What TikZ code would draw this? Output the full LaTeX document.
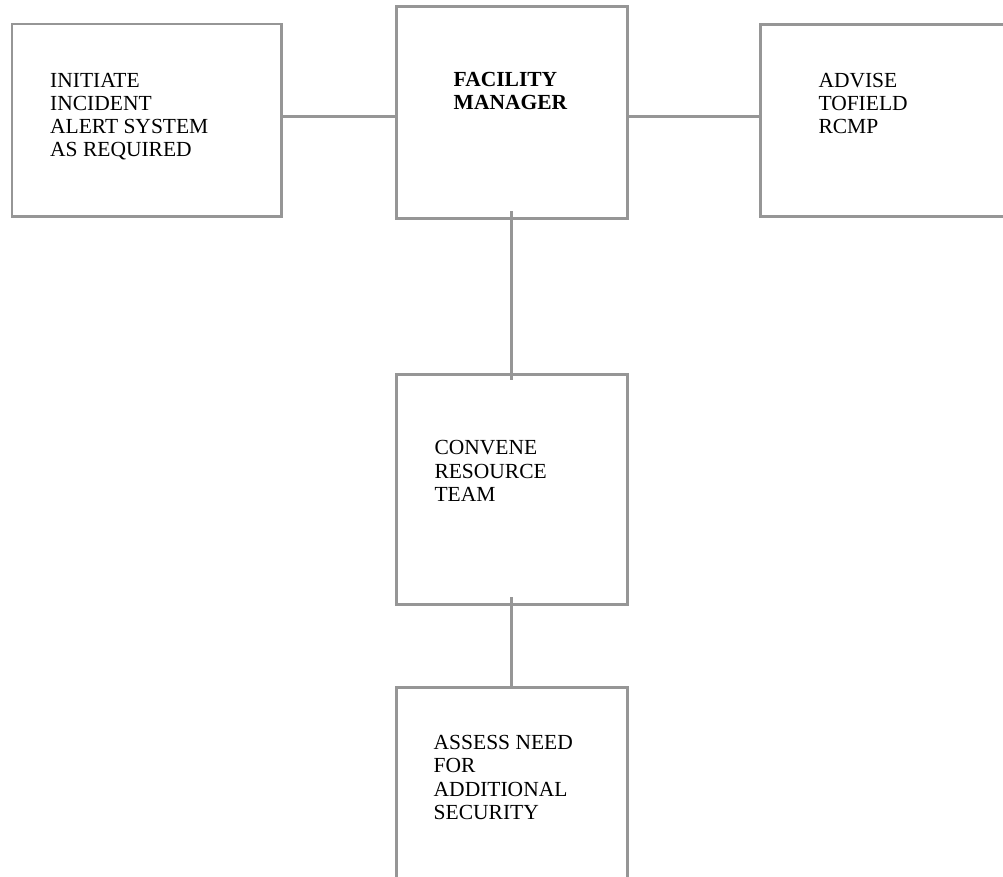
\documentclass[tikz,border=0pt]{standalone}
\usepackage{fontspec}
\setmainfont{Liberation Serif}
\definecolor{boxgray}{RGB}{150,150,150}
\begin{document}
\begin{tikzpicture}[x=1pt,y=-1pt,
  box/.style={draw=boxgray,line width=2.8pt,rectangle,inner sep=0pt,anchor=north west},
  conn/.style={draw=boxgray,line width=2.8pt},
  lbl/.style={anchor=north west,inner sep=0pt,align=left,font=\fontsize{21.5}{23.3}\selectfont}]
\clip (0,0) rectangle (1003,876);
\node[box,minimum width=269.5pt,minimum height=192.5pt] (lbox) at (10.5,22.5) {};
\node[box,minimum width=231pt,minimum height=211.7pt] (cbox) at (394.7,5) {};
\node[box,minimum width=280pt,minimum height=191.7pt] (rbox) at (759.3,23.3) {};
\node[box,minimum width=231pt,minimum height=230pt] (mbox) at (394.7,372.7) {};
\node[box,minimum width=231pt,minimum height=230pt] (bbox) at (394.7,686) {};
\node[lbl] (ltext) at (50,72.7) {INITIATE\\INCIDENT\\ALERT SYSTEM\\AS REQUIRED};
\node[lbl,font=\fontsize{21.5}{23.3}\selectfont\bfseries] (ctext) at (453.5,72) {FACILITY\\MANAGER};
\node[lbl] (rtext) at (818.3,72.7) {ADVISE\\TOFIELD\\RCMP};
\node[lbl] (mtext) at (434.3,440.5) {CONVENE\\RESOURCE\\TEAM};
\node[lbl] (btext) at (433.5,735) {ASSESS NEED\\FOR\\ADDITIONAL\\SECURITY};
\coordinate (hl) at ([yshift=4pt]lbox.east);
\draw[conn] (hl) -- (cbox.west |- hl);
\draw[conn] (cbox.east |- hl) -- (rbox.west |- hl);
\draw[conn] ([yshift=8.4pt]cbox.south) -- ([yshift=-7.3pt]mbox.north);
\draw[conn] ([yshift=8.4pt]mbox.south) -- ([yshift=-3.3pt]bbox.north);
\end{tikzpicture}
\end{document}
